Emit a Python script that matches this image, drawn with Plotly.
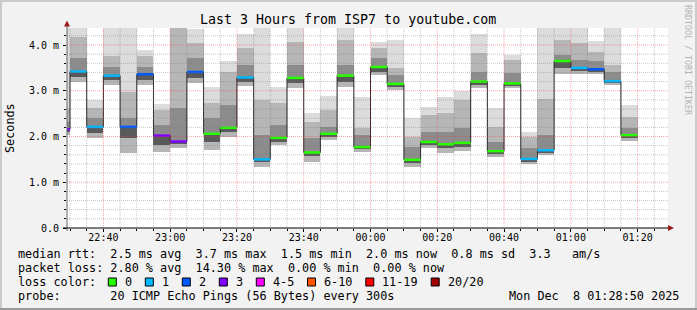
import plotly.graph_objects as go
from datetime import datetime, timedelta

# ---------------- data (values in milliseconds) ----------------
slot_start = ["22:25", "22:30", "22:35", "22:40", "22:45", "22:50", "22:55",
              "23:00", "23:05", "23:10", "23:15", "23:20", "23:25", "23:30",
              "23:35", "23:40", "23:45", "23:50", "23:55", "00:00", "00:05",
              "00:10", "00:15", "00:20", "00:25", "00:30", "00:35", "00:40",
              "00:45", "00:50", "00:55", "01:00", "01:05", "01:10", "01:15"]
median_ms = [2.16, 3.42, 2.21, 3.33, 2.21, 3.36, 2.02, 1.89, 3.41, 2.06, 2.19,
             3.29, 1.50, 1.97, 3.28, 1.65, 2.06, 3.33, 1.77, 3.52, 3.15, 1.49,
             1.88, 1.83, 1.86, 3.20, 1.68, 3.16, 1.51, 1.70, 3.65, 3.50, 3.47,
             3.21, 2.03]
loss_pings = [3, 1, 1, 1, 2, 2, 3, 3, 2, 0, 0, 1, 1, 0, 0, 0, 0, 0, 0, 0, 0,
              0, 0, 0, 0, 0, 0, 0, 1, 1, 0, 1, 2, 1, 0]
smoke_lo = [2.03, 3.20, 1.96, 3.13, 1.65, 3.13, 1.67, 1.74, 3.16, 1.70, 2.00,
            3.11, 1.34, 1.81, 3.05, 1.44, 1.92, 3.09, 1.67, 3.34, 3.02, 1.34,
            1.74, 1.63, 1.68, 3.05, 1.56, 3.05, 1.39, 1.60, 3.36, 3.36, 3.36,
            3.13, 1.90]
smoke_l1 = [2.10, 3.31, 2.07, 3.23, 1.96, 3.23, 1.81, 1.83, 3.27, 1.89, 2.10,
            3.20, 1.44, 1.88, 3.17, 1.57, 1.99, 3.20, 1.72, 3.42, 3.09, 1.42,
            1.82, 1.74, 1.77, 3.13, 1.62, 3.11, 1.45, 1.65, 3.49, 3.43, 3.41,
            3.17, 1.97]
smoke_u1 = [2.32, 3.71, 2.40, 3.53, 2.40, 3.53, 2.25, 2.62, 3.71, 2.40, 2.69,
            3.56, 2.03, 2.25, 3.56, 1.96, 2.21, 3.56, 2.03, 3.71, 3.34, 1.78,
            2.10, 2.10, 2.18, 3.42, 1.89, 3.38, 1.74, 2.03, 3.78, 3.67, 3.64,
            3.42, 2.18]
smoke_u2 = [2.62, 4.18, 2.62, 3.75, 2.98, 3.75, 2.58, 4.45, 4.04, 2.73, 3.42,
            3.93, 2.80, 2.73, 4.07, 2.32, 2.58, 4.11, 2.18, 3.93, 3.49, 2.00,
            2.47, 2.51, 2.80, 3.82, 2.21, 3.67, 2.00, 2.83, 4.11, 4.04, 3.85,
            3.56, 2.43]
smoke_hi = [4.60, 4.60, 2.80, 4.60, 4.60, 3.89, 2.71, 4.60, 4.35, 3.09, 3.66,
            4.23, 4.60, 3.09, 4.60, 2.52, 2.89, 4.60, 2.87, 4.07, 4.11, 2.40,
            2.65, 2.87, 2.99, 4.23, 2.63, 3.78, 2.10, 4.60, 4.45, 4.60, 4.09,
            4.60, 2.69]

x_tick_labels = ["22:40", "23:00", "23:20", "23:40", "00:00", "00:20",
                 "00:40", "01:00", "01:20"]
y_tick_vals = [0, 1, 2, 3, 4]
y_tick_text = ["0.0", "1.0 m", "2.0 m", "3.0 m", "4.0 m"]

loss_buckets = [("0", 0, 0, "#26ff00"), ("1", 1, 1, "#00b8ff"),
                ("2", 2, 2, "#0059ff"), ("3", 3, 3, "#7e00ff"),
                ("4-5", 4, 5, "#ff00ff"), ("6-10", 6, 10, "#ff5500"),
                ("11-19", 11, 19, "#ff0000"), ("20/20", 20, 20, "#a10000")]

title_text = "Last 3 Hours from ISP7 to youtube.com"
line_rtt = "median rtt:  2.5 ms avg  3.7 ms max  1.5 ms min  2.0 ms now  0.8 ms sd  3.3   am/s"
line_loss = "packet loss: 2.80 % avg  14.30 % max  0.00 % min  0.00 % now"
line_probe = "probe:       20 ICMP Echo Pings (56 Bytes) every 300s"
stamp_text = "Mon Dec  8 01:28:50 2025"

# ---------------- helpers ----------------
W, H = 697, 310
L, T, R, B = 67, 28, 668, 228
FONT = "DejaVu Sans Mono"


def px(x):
    return (x - L) / (R - L)


def py(y):
    return (B - y) / (B - T)


def to_dt(hhmm):
    h, m = map(int, hhmm.split(":"))
    return datetime(2025, 12, 7 if h >= 12 else 8, h, m)


STEP = timedelta(minutes=5)
starts = [to_dt(s) for s in slot_start]
centers = [s + STEP / 2 for s in starts]
x_start = datetime(2025, 12, 7, 22, 29, 6)
x_end = x_start + timedelta(hours=3)
y_top = (B - T) / 45.75

fig = go.Figure()

# smoke bands (outer, light -> inner, dark)
bands = [(smoke_lo, smoke_hi, "#dcdcdc"), (smoke_lo, smoke_u2, "#b6b6b6"),
         (smoke_l1, smoke_u1, "#8c8c8c"), (smoke_l1, median_ms, "#5a5a5a")]
for lo, hi, col in bands:
    fig.add_trace(go.Bar(x=centers, y=[h - l for l, h in zip(lo, hi)], base=lo,
                         width=STEP.total_seconds() * 1000,
                         marker=dict(color=col, line=dict(width=0)),
                         hoverinfo="skip", showlegend=False))

# median step line
fig.add_trace(go.Scatter(x=starts + [starts[-1] + STEP],
                         y=median_ms + [median_ms[-1]],
                         mode="lines", line=dict(color="#202020", width=1, shape="hv"),
                         hoverinfo="skip", showlegend=False))

# loss-coloured median marks
for label, lo_b, hi_b, col in loss_buckets:
    xs, ys = [], []
    for s, m, lp in zip(starts, median_ms, loss_pings):
        if lo_b <= lp <= hi_b:
            xs += [s, s + STEP, None]
            ys += [m, m, None]
    if xs:
        fig.add_trace(go.Scatter(x=xs, y=ys, mode="lines",
                                 line=dict(color=col, width=2.5),
                                 hoverinfo="skip", showlegend=False))

shapes = []
MINOR = "rgba(120,120,120,0.42)"
MAJOR = "rgba(235,60,60,0.45)"
major_times = [to_dt(t) for t in x_tick_labels]
t = to_dt("22:30")
while t < x_end:
    shapes.append(dict(type="line", xref="x", yref="paper", x0=t, x1=t, y0=0, y1=1,
                       layer="above",
                       line=dict(color=MAJOR if t in major_times else MINOR,
                                 width=1, dash="1px,1px")))
    t += STEP
for k in range(1, int(y_top / 0.2) + 1):
    v = round(k * 0.2, 3)
    is_major = (k % 5 == 0)
    shapes.append(dict(type="line", xref="paper", yref="y", x0=0, x1=1, y0=v, y1=v,
                       layer="above",
                       line=dict(color=MAJOR if is_major else MINOR, width=1,
                                 dash="1px,1px")))

# axes lines and arrows
shapes.append(dict(type="line", xref="paper", yref="paper", x0=px(67), x1=px(67),
                   y0=py(231), y1=py(24), line=dict(color="#666666", width=1)))
shapes.append(dict(type="line", xref="paper", yref="paper", x0=px(63), x1=px(670),
                   y0=py(228), y1=py(228), line=dict(color="#000000", width=1.2)))
ARROW = "#9b1c1c"
shapes.append(dict(type="path", xref="paper", yref="paper",
                   path=f"M {px(67)} {py(20.5)} L {px(64)} {py(26.5)} L {px(70)} {py(26.5)} Z",
                   fillcolor=ARROW, line=dict(width=0)))
shapes.append(dict(type="path", xref="paper", yref="paper",
                   path=f"M {px(674)} {py(228)} L {px(668)} {py(225)} L {px(668)} {py(231)} Z",
                   fillcolor=ARROW, line=dict(width=0)))

# frame shading
shapes.append(dict(type="rect", xref="paper", yref="paper", x0=px(0), x1=px(697),
                   y0=py(0), y1=py(2), fillcolor="#cbcbcb", line=dict(width=0)))
shapes.append(dict(type="rect", xref="paper", yref="paper", x0=px(0), x1=px(2),
                   y0=py(0), y1=py(310), fillcolor="#cbcbcb", line=dict(width=0)))
shapes.append(dict(type="rect", xref="paper", yref="paper", x0=px(695), x1=px(697),
                   y0=py(0), y1=py(310), fillcolor="#cbcbcb", line=dict(width=0)))
shapes.append(dict(type="rect", xref="paper", yref="paper", x0=px(0), x1=px(697),
                   y0=py(308), y1=py(310), fillcolor="#999999", line=dict(width=0)))

# legend squares
LEG_Y = 282
sq_x = 108.3
ann = []
for label, lo_b, hi_b, col in loss_buckets:
    shapes.append(dict(type="rect", xref="paper", yref="paper",
                       x0=px(sq_x), x1=px(sq_x + 8), y0=py(LEG_Y - 4), y1=py(LEG_Y + 4),
                       fillcolor=col, line=dict(color="#000000", width=1)))
    ann.append(dict(x=px(sq_x + 14.5), y=py(LEG_Y), text=label))
    sq_x += 29.9 + 7.1 * len(label)


def nb(s):
    return s.replace(" ", "\u00a0")


annotations = []
LEG_SIZE = 11.8
for a in ann:
    annotations.append(dict(x=a["x"], y=a["y"], xref="paper", yref="paper",
                            text=nb(a["text"]), showarrow=False, xanchor="left",
                            yanchor="middle", font=dict(family=FONT, size=LEG_SIZE, color="#000")))
for txt, yy in [(line_rtt, 254), (line_loss, 268), ("loss color:", 282), (line_probe, 296)]:
    annotations.append(dict(x=px(16.4), y=py(yy), xref="paper", yref="paper",
                            text=nb(txt), showarrow=False, xanchor="left",
                            yanchor="middle", font=dict(family=FONT, size=LEG_SIZE, color="#000")))
annotations.append(dict(x=px(680.5), y=py(296), xref="paper", yref="paper",
                        text=nb(stamp_text), showarrow=False, xanchor="right",
                        yanchor="middle", font=dict(family=FONT, size=LEG_SIZE, color="#000")))
annotations.append(dict(x=px(348), y=py(19), xref="paper", yref="paper",
                        text=title_text, showarrow=False, xanchor="center",
                        yanchor="middle", font=dict(family=FONT, size=13.3, color="#000")))
annotations.append(dict(x=px(10), y=py(128), xref="paper", yref="paper",
                        text="Seconds", showarrow=False, textangle=-90,
                        xanchor="center", yanchor="middle",
                        font=dict(family=FONT, size=11.8, color="#000")))
annotations.append(dict(x=px(688), y=py(60), xref="paper", yref="paper",
                        text=nb("RRDTOOL / TOBI OETIKER"), showarrow=False, textangle=90,
                        xanchor="center", yanchor="middle",
                        font=dict(family=FONT, size=8.3, color="#b4b4b4")))

fig.update_layout(
    width=W, height=H,
    margin=dict(l=L, r=W - R, t=T, b=H - B, pad=0),
    paper_bgcolor="#f2f2f2", plot_bgcolor="#ffffff",
    barmode="overlay", bargap=0, showlegend=False,
    shapes=shapes, annotations=annotations,
    xaxis=dict(type="date", range=[x_start, x_end], showgrid=False, zeroline=False,
               showline=False, tickvals=major_times, ticktext=x_tick_labels,
               ticks="outside", ticklen=3, tickcolor="#000", ticklabelstandoff=-3,
               tickfont=dict(family=FONT, size=10, color="#000"),
               minor=dict(dtick=300000, ticks="outside", ticklen=2, tickcolor="#000",
                          showgrid=False)),
    yaxis=dict(range=[0, y_top], showgrid=False, zeroline=False, showline=False,
               tickvals=y_tick_vals, ticktext=y_tick_text, ticks="outside",
               ticklen=3, tickcolor="#000", ticklabelstandoff=2,
               tickfont=dict(family=FONT, size=10, color="#000"),
               minor=dict(dtick=0.2, ticks="outside", ticklen=2, tickcolor="#000",
                          showgrid=False)),
)

fig.write_html("out.html")
